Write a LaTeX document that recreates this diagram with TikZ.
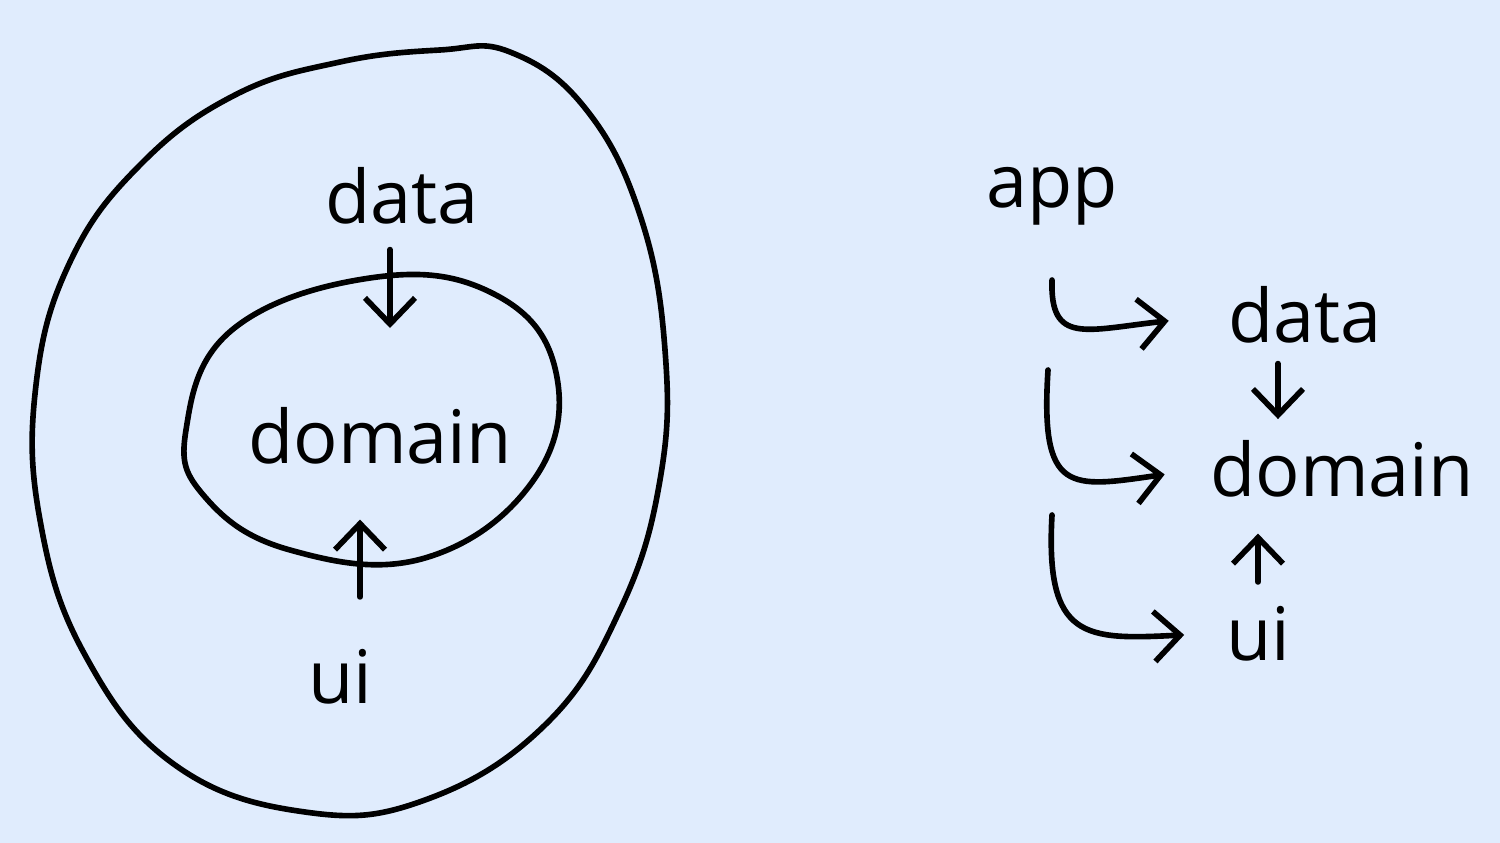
\documentclass[tikz,border=0pt]{standalone}
\usepackage{fontspec}
\setmainfont{Open Sans}
\usetikzlibrary{arrows.meta}
\definecolor{paper}{RGB}{224,236,253}
\tikzset{
  hand/.style={line width=1.6pt, line join=round, line cap=round},
  word/.style={font=\fontsize{21}{25}\selectfont, inner sep=2pt, anchor=base},
}
\begin{document}
\begin{tikzpicture}[x=0.01cm, y=-0.01cm, hand, >={Straight Barb[length=2.6mm, width=5mm]}]
	\fill[paper] (0,0) rectangle (1500,843);
	\useasboundingbox (0,0) rectangle (1500,843);

	% left: layers as rings
	\draw plot[smooth cycle, tension=0.7] coordinates {
		(340,62) (440,50) (510,52) (585,108) (640,215) (665,350) (660,480) (620,610)
		(545,725) (425,800) (305,812) (175,765) (85,655) (40,520) (36,385)
		(70,262) (140,165) (235,95)};
	\draw plot[smooth cycle, tension=0.7] coordinates {
		(186,430) (232,330) (370,278) (490,292) (555,368) (535,478)
		(425,558) (290,550) (205,497)};

	\node[word] (odata) at (402,224) {data};
	\node[word] (odomain) at (380,464) {domain};
	\node[word] (oui) at (340,703) {ui};

	\draw[->, shorten <=0.15cm, shorten >=0.7cm]
		([xshift=-0.12cm]odata.south) -- ([xshift=-0.12cm]odata.south |- odomain.north);
	\draw[->, shorten <=0.42cm, shorten >=0.45cm]
		([xshift=0.2cm]oui.north) -- ([xshift=0.2cm]oui.north |- odomain.south);

	% right: app wires the layers
	\node[word] (app) at (1052,208) {app};
	\node[word] (rdata) at (1305,343) {data};
	\node[word] (rdomain) at (1342,497) {domain};
	\node[word] (rui) at (1258,660) {ui};

	\coordinate (h1) at (1052,280);
	\coordinate (h2) at (1048,370);
	\coordinate (h3) at (1052,515);

	\draw[->, shorten >=0.5cm] (h1) .. controls (1050,345) and (1085,330) .. (rdata.west);
	\draw[->, shorten >=0.36cm] (h2) .. controls (1040,495) and (1070,488) .. (rdomain.west);
	\draw[->, shorten >=0.32cm] (h3) .. controls (1045,640) and (1085,640) .. (rui.west);

	\draw[->, shorten <=0.1cm, shorten >=0.12cm]
		([xshift=-0.27cm]rdata.south) -- ([xshift=-0.27cm]rdata.south |- rdomain.north);
	\draw[->, shorten <=0.14cm, shorten >=0.26cm]
		(rui.north) -- (rui.north |- rdomain.south);
\end{tikzpicture}
\end{document}
